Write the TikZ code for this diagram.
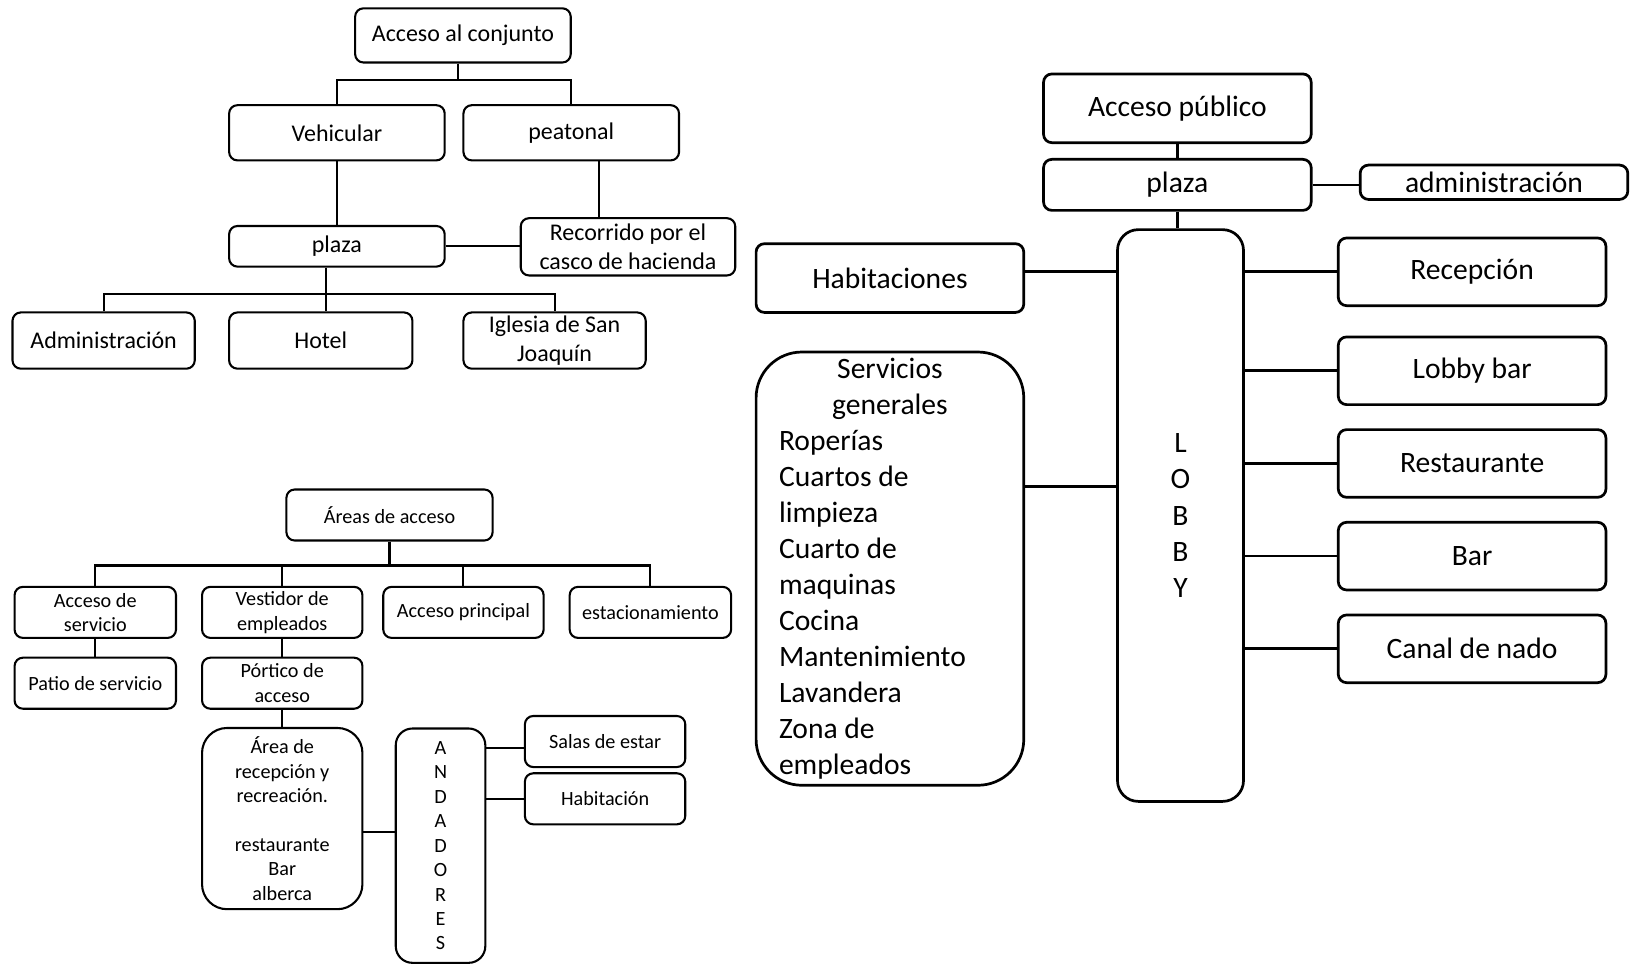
\documentclass[tikz,border=0pt]{standalone}
\usepackage{fontspec}
\setmainfont{Carlito}
\newcommand{\pxu}{0.5pt}
\newcommand{\fsmall}{\fontsize{9.7}{11.75}\selectfont}
\newcommand{\fmid}{\fontsize{11.5}{13.8}\selectfont}
\newcommand{\fbig}{\fontsize{14.2}{17.3}\selectfont}

\begin{document}
\begin{tikzpicture}[x=0.5pt, y=-0.5pt, line width=1pt,
                    block/.style={draw, rounded corners=4pt, inner sep=0pt,
                                  align=center, text=black},
                    dims/.style 2 args={minimum width=#1*\pxu, minimum height=#2*\pxu}]
	\useasboundingbox (0, 0) rectangle (1568, 926);

	% acceso al conjunto
	\node[block, dims={207}{52}, font=\fmid] (conj) at (444.5, 34) {Acceso al conjunto};
	\node[block, dims={207}{53}, font=\fmid] (veh) at (323.5, 127.5) {Vehicular};
	\node[block, dims={207}{53}, font=\fmid] (peat) at (548.5, 127.5) {peatonal};
	\node[block, dims={207}{39}, font=\fmid] (plazaA) at (323.5, 236.5) {plaza};
	\node[block, dims={206}{55}, font=\fmid] (rec) at (603, 237) {Recorrido por el\\casco de hacienda};
	\node[block, dims={175}{54}, font=\fmid] (admin) at (99.5, 327) {Administración};
	\node[block, dims={176}{54}, font=\fmid] (hotel) at (308, 327) {Hotel};
	\node[block, dims={175}{54}, font=\fmid] (igl) at (532.5, 327) {Iglesia de San\\Joaquín};

	\coordinate (busT) at (440, 77);
	\coordinate (busA) at (313, 282);
	\draw (busT |- conj.south) -- (busT);
	\draw (veh.north) |- (busT) -| (peat.north);
	\draw (veh.south) -- (plazaA.north);
	\draw ([xshift=27*\pxu]peat.south) -- ([xshift=27*\pxu]peat.south |- rec.north);
	\draw (plazaA.east) -- (plazaA.east -| rec.west);
	\draw (busA |- plazaA.south) -- (busA |- hotel.north);
	\draw (admin.north) |- (busA) -| (igl.north);

	% areas de acceso
	\node[block, dims={198}{49}, font=\fsmall] (areas) at (374, 494.5) {Áreas de acceso};
	\node[block, dims={155}{49}, font=\fsmall] (aserv) at (91.5, 588) {Acceso de\\servicio};
	\node[block, dims={154}{49}, font=\fsmall] (vest) at (271, 588) {Vestidor de\\empleados};
	\node[block, dims={154}{49}, font=\fsmall] (aprin) at (445, 588) {Acceso principal};
	\node[block, dims={155}{49}, font=\fsmall] (estac) at (624.5, 588) {estacionamiento};
	\node[block, dims={155}{49}, font=\fsmall] (patio) at (91.5, 656) {Patio de servicio};
	\node[block, dims={154}{49}, font=\fsmall] (port) at (271, 656) {Pórtico de\\acceso};
	\node[block, dims={154}{174}, font=\fsmall, rounded corners=12pt] (arec) at (271, 786)
		{Área de\\recepción y\\recreación.\\[11.75pt]restaurante\\Bar\\alberca};
	\node[block, dims={86}{225}, font=\fsmall, rounded corners=8pt] (andad) at (423, 812)
		{A\\N\\D\\A\\D\\O\\R\\E\\S};
	\node[block, dims={154}{49}, font=\fsmall] (salas) at (581, 712) {Salas de estar};
	\node[block, dims={154}{49}, font=\fsmall] (habA) at (581, 767) {Habitación};

	\coordinate (busB) at (374, 543);
	\draw (areas.south) -- (busB);
	\draw (aserv.north) |- (busB) -| (estac.north);
	\draw (vest.north) -- (vest.north |- busB);
	\draw (aprin.north) -- (aprin.north |- busB);
	\draw (aserv.south) -- (patio.north);
	\draw (vest.south) -- (port.north);
	\draw (port.south) -- (arec.north);
	\draw ([yshift=-13*\pxu]arec.east) -- ([yshift=-13*\pxu]arec.east -| andad.west);
	\draw ([yshift=-6*\pxu]salas.west -| andad.east) -- ([yshift=-6*\pxu]salas.west);
	\draw (habA.west -| andad.east) -- (habA.west);

	% acceso publico
	\begin{scope}[line width=1.3pt]
	\node[block, dims={257}{66}, font=\fbig] (pub) at (1130.5, 104) {Acceso público};
	\node[block, dims={257}{49}, font=\fbig] (plazaB) at (1130.5, 177.5) {plaza};
	\node[block, dims={257}{33}, font=\fbig] (admB) at (1434.5, 175) {administración};
	\node[block, dims={121}{549}, font=\fbig, rounded corners=10pt] (lobby) at (1133.5, 495) {L\\O\\B\\B\\Y};
	\node[block, dims={257}{66}, font=\fbig] (habB) at (854.5, 267) {Habitaciones};
	\node[block, dims={257}{416}, font=\fbig, rounded corners=22pt, text width=213*\pxu, align=flush left] (serv) at (854.5, 546)
		{\makebox[\hsize]{Servicios}\\ \makebox[\hsize]{generales}\\ Roperías\\ Cuartos de\\ limpieza\\ Cuarto de\\ maquinas\\ Cocina\\ Mantenimiento\\ Lavandera\\ Zona de\\ empleados};
	\node[block, dims={257}{65}, font=\fbig] (recep) at (1413.5, 261) {Recepción};
	\node[block, dims={257}{65}, font=\fbig] (lbar) at (1413.5, 356) {Lobby bar};
	\node[block, dims={257}{65}, font=\fbig] (rest) at (1413.5, 445) {Restaurante};
	\node[block, dims={257}{65}, font=\fbig] (bar) at (1413.5, 534) {Bar};
	\node[block, dims={257}{65}, font=\fbig] (canal) at (1413.5, 623) {Canal de nado};

	\draw (pub.south) -- (plazaB.north);
	\draw (plazaB.south) -- (plazaB.south |- lobby.north);
	\draw (plazaB.east) -- (plazaB.east -| admB.west);
	\draw ([yshift=6*\pxu]habB.east) -- ([yshift=6*\pxu]habB.east -| lobby.west);
	\draw ([yshift=79*\pxu]serv.east) -- ([yshift=79*\pxu]serv.east -| lobby.west);
	\draw (recep.west -| lobby.east) -- (recep.west);
	\draw (lbar.west -| lobby.east) -- (lbar.west);
	\draw (rest.west -| lobby.east) -- (rest.west);
	\draw (bar.west -| lobby.east) -- (bar.west);
	\draw (canal.west -| lobby.east) -- (canal.west);
	\end{scope}
\end{tikzpicture}
\end{document}
